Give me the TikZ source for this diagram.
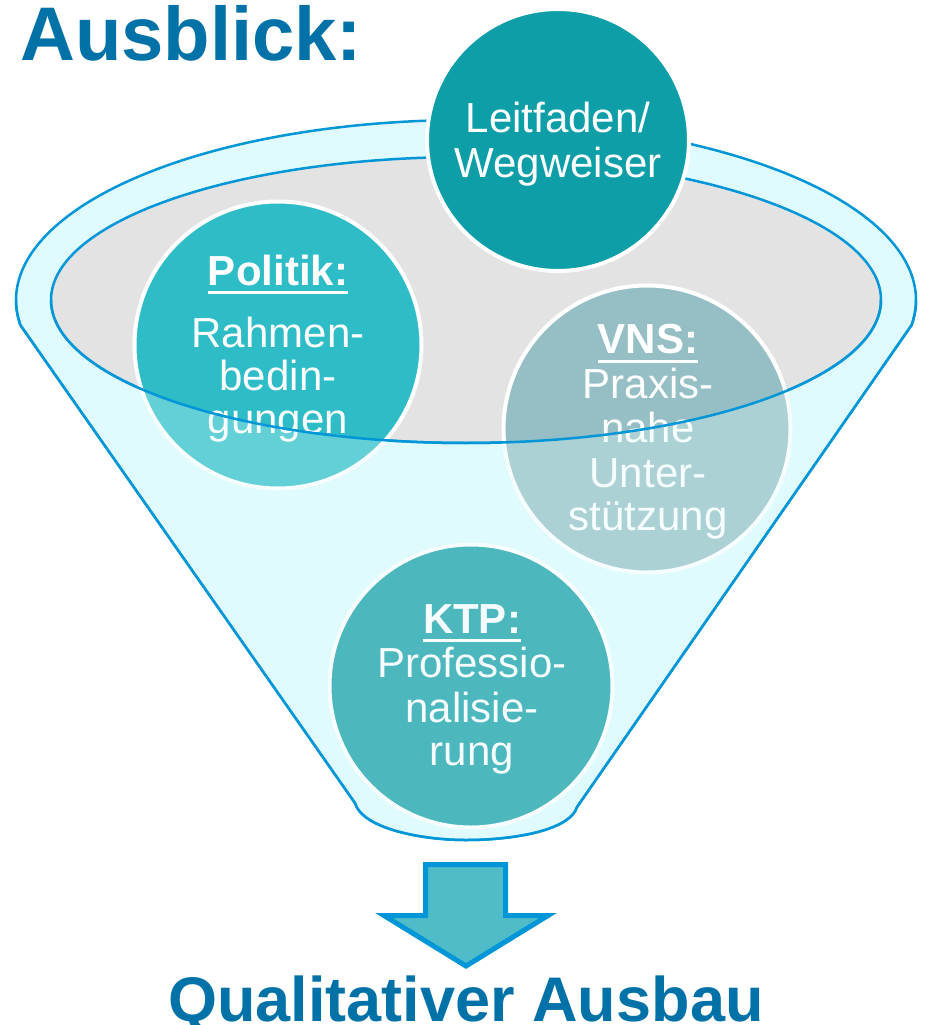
\documentclass[tikz,border=0pt]{standalone}
\usepackage{fontspec}
\setmainfont{Liberation Sans}
\definecolor{titleblue}{RGB}{0,114,168}
\definecolor{funnelline}{RGB}{0,150,215}
\definecolor{funnelfill}{RGB}{224,251,253}
\definecolor{rimgray}{RGB}{227,227,227}
\definecolor{leitc}{RGB}{14,158,168}
\definecolor{polc}{RGB}{46,188,199}
\definecolor{vnsc}{RGB}{150,191,197}
\definecolor{ktpc}{RGB}{14,154,163}
\definecolor{arrowfill}{RGB}{79,188,200}
\tikzset{
  bubble/.style={circle, draw=white, line width=4pt, inner sep=0pt},
  ctext/.style={anchor=base, inner sep=0pt, text=white, font=\fontsize{42}{44}\selectfont},
  ctitle/.style={anchor=base, inner sep=0pt, text=white, font=\fontsize{42}{44}\selectfont\bfseries},
  uline/.style={draw=white, line width=3pt},
  fline/.style={draw=funnelline, line width=2.5pt},
  heading/.style={inner sep=0pt, text=titleblue, font=\bfseries\fontsize{76}{80}\selectfont},
}
\begin{document}
\begin{tikzpicture}[x=1pt,y=-1pt]
\useasboundingbox (0,0) rectangle (926,1025);
\fill[white] (0,0) rectangle (926,1025);

% funnel body
\path[fill=funnelfill, fline, line join=round]
  plot[domain=172:368, samples=160] ({466+450*cos(\x)},{300+180*sin(\x)})
  -- (577,807) .. controls (570,830) and (515,840) .. (466,840)
  .. controls (420,840) and (362,828) .. (355,803) -- cycle;

% inner rim
\draw[fill=rimgray, fline] (466,300) ellipse [x radius=415pt, y radius=143pt];

% bubbles
\node[bubble, fill=leitc, minimum size=262pt] (leit) at (558,140) {};
\node[bubble, fill=polc, minimum size=287pt] (pol) at (278,345) {};
\node[bubble, fill=vnsc, minimum size=287pt] (vns) at (647,429) {};
\node[bubble, fill=ktpc, minimum size=283pt] (ktp) at (471,686) {};

% texts
\node[ctext] (l1) at (558,132) {Leitfaden/};
\node[ctext] (l2) at (558,177) {Wegweiser};

\node[ctitle] (p0) at (278,285) {Politik:};
\draw[uline] ([yshift=-7pt]p0.base west) -- ([yshift=-7pt]p0.base east);
\node[ctext] (p1) at (278,347) {Rahmen-};
\node[ctext] (p2) at (278,390) {bedin-};
\node[ctext] (p3) at (278,433) {gungen};

\node[ctitle] (v0) at (648,353) {VNS:};
\draw[uline] ([yshift=-8pt]v0.base west) -- ([yshift=-8pt]v0.base east);
\node[ctext] (v1) at (648,398) {Praxis-};
\node[ctext] (v2) at (648,442) {nahe};
\node[ctext] (v3) at (648,487) {Unter-};
\node[ctext] (v4) at (648,530) {stützung};

\node[ctitle] (k0) at (472,633) {KTP:};
\draw[uline] ([yshift=-7pt]k0.base west) -- ([yshift=-7pt]k0.base east);
\node[ctext] (k1) at (472,677) {Professio-};
\node[ctext] (k2) at (472,722) {nalisie-};
\node[ctext] (k3) at (472,765) {rung};

% translucent front face of the funnel
\fill[funnelfill, opacity=0.3]
  plot[domain=180:0, samples=160] ({466+415*cos(\x)},{300+143*sin(\x)})
  -- plot[domain=0:8, samples=10] ({466+450*cos(\x)},{300+180*sin(\x)})
  -- (577,807) .. controls (570,830) and (515,840) .. (466,840)
  .. controls (420,840) and (362,828) .. (355,803)
  -- plot[domain=172:180, samples=10] ({466+450*cos(\x)},{300+180*sin(\x)})
  -- cycle;

% front strokes
\draw[fline] plot[domain=180:0, samples=160] ({466+415*cos(\x)},{300+143*sin(\x)});
\draw[fline, line join=round]
  plot[domain=0:8, samples=10] ({466+450*cos(\x)},{300+180*sin(\x)})
  -- (577,807) .. controls (570,830) and (515,840) .. (466,840)
  .. controls (420,840) and (362,828) .. (355,803)
  -- plot[domain=172:180, samples=10] ({466+450*cos(\x)},{300+180*sin(\x)});

% arrow
\draw[fill=arrowfill, draw=funnelline, line width=5pt, line join=miter]
  (425.5,864.5) -- (505.5,864.5) -- (505.5,915.5) -- (548,915.5) -- (466,966)
  -- (384,915.5) -- (425.5,915.5) -- cycle;

% headings
\node[heading, anchor=base west] (title) at (20,61) {Ausblick:};
\node[heading, anchor=base, font=\bfseries\fontsize{63}{66}\selectfont] (result) at (466,1021) {Qualitativer Ausbau};
\end{tikzpicture}
\end{document}
